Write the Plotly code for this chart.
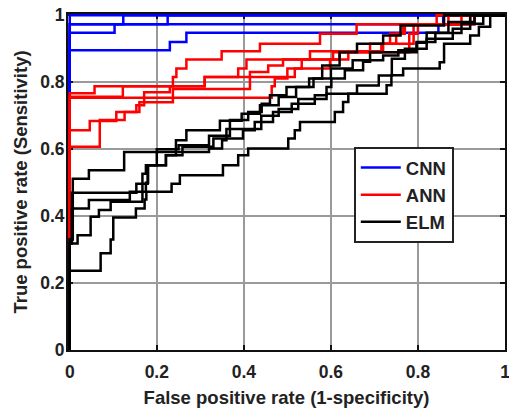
import plotly.graph_objects as go

# Tick labels
tick_vals = [0, 0.2, 0.4, 0.6, 0.8, 1]
tick_text = ["0", "0.2", "0.4", "0.6", "0.8", "1"]

# ROC step curves: each point is (fpr at step, tpr after step), drawn with 'hv' steps
cnn_fpr_1 = [0, 0, 1]
cnn_tpr_1 = [0, 1, 1]
cnn_fpr_2 = [0, 0, 0.123, 1]
cnn_tpr_2 = [0, 0.973, 1, 1]
cnn_fpr_3 = [0, 0, 0.103, 0.225, 1]
cnn_tpr_3 = [0, 0.948, 0.973, 1, 1]
cnn_fpr_4 = [0, 0, 0.93, 1]
cnn_tpr_4 = [0, 0.973, 1, 1]
cnn_fpr_5 = [0, 0, 0.23, 0.268, 0.847, 0.858, 1]
cnn_tpr_5 = [0, 0.896, 0.92, 0.948, 0.973, 1, 1]

ann_fpr_1 = [0, 0, 0.057, 0.237, 0.245, 0.268, 0.349, 0.437, 0.575, 0.659, 0.843, 1]
ann_tpr_1 = [0, 0.767, 0.788, 0.816, 0.841, 0.868, 0.893, 0.915, 0.945, 0.973, 1, 1]
ann_fpr_2 = [0, 0, 0.122, 0.31, 0.387, 0.406, 0.552, 0.69, 0.75, 0.77, 0.87, 1]
ann_tpr_2 = [0, 0.757, 0.788, 0.816, 0.841, 0.868, 0.893, 0.915, 0.945, 0.973, 1, 1]
ann_fpr_3 = [0, 0, 0.464, 0.471, 0.50, 0.533, 0.605, 0.716, 0.736, 0.766, 0.93, 1]
ann_tpr_3 = [0, 0.754, 0.788, 0.811, 0.841, 0.868, 0.89, 0.915, 0.945, 0.973, 1, 1]
ann_fpr_4 = [0, 0, 0.046, 0.107, 0.153, 0.171, 0.23, 0.31, 0.517, 0.598, 0.64, 0.72, 0.79, 0.9, 1]
ann_tpr_4 = [0, 0.657, 0.684, 0.711, 0.731, 0.77, 0.788, 0.816, 0.841, 0.868, 0.893, 0.915, 0.973, 1, 1]
ann_fpr_5 = [0, 0, 0.069, 0.126, 0.16, 0.237, 0.414, 0.456, 0.49, 0.62, 0.78, 0.8, 0.92, 1]
ann_tpr_5 = [0, 0.607, 0.687, 0.711, 0.74, 0.78, 0.831, 0.85, 0.868, 0.89, 0.945, 0.973, 1, 1]

elm_fpr_1 = [0, 0, 0.071, 0.094, 0.1, 0.152, 0.172, 0.176, 0.234, 0.253, 0.352, 0.387, 0.41,
             0.502, 0.517, 0.529, 0.609, 0.628, 0.64, 0.728, 0.739, 0.766, 0.85, 0.86, 0.92,
             0.94, 0.966, 1]
elm_tpr_1 = [0, 0.237, 0.289, 0.33, 0.396, 0.423, 0.45, 0.473, 0.497, 0.522, 0.552, 0.582, 0.602,
             0.632, 0.657, 0.681, 0.711, 0.741, 0.766, 0.791, 0.821, 0.841, 0.86, 0.915, 0.94,
             0.966, 1, 1]
elm_fpr_2 = [0, 0, 0.018, 0.048, 0.067, 0.094, 0.167, 0.175, 0.221, 0.259, 0.33, 0.398, 0.425,
             0.467, 0.51, 0.563, 0.59, 0.601, 0.632, 0.674, 0.69, 0.797, 0.84, 0.9, 0.95, 1]
elm_tpr_2 = [0, 0.318, 0.343, 0.398, 0.418, 0.443, 0.527, 0.552, 0.582, 0.607, 0.632, 0.657, 0.681,
             0.711, 0.736, 0.761, 0.786, 0.811, 0.836, 0.861, 0.89, 0.92, 0.947, 0.975, 1, 1]
elm_fpr_3 = [0, 0, 0.005, 0.044, 0.138, 0.175, 0.18, 0.2, 0.25, 0.32, 0.368, 0.41, 0.441, 0.46,
             0.498, 0.55, 0.6, 0.65, 0.72, 0.755, 0.797, 0.82, 0.87, 0.93, 1]
elm_tpr_3 = [0, 0.33, 0.423, 0.448, 0.473, 0.5, 0.552, 0.6, 0.612, 0.64, 0.687, 0.711, 0.736, 0.761,
             0.786, 0.811, 0.841, 0.866, 0.88, 0.896, 0.918, 0.948, 0.98, 1, 1]
elm_fpr_4 = [0, 0, 0.005, 0.153, 0.179, 0.221, 0.244, 0.268, 0.345, 0.395, 0.437, 0.48, 0.52,
             0.56, 0.58, 0.62, 0.66, 0.72, 0.76, 0.86, 1]
elm_tpr_4 = [0, 0.318, 0.47, 0.497, 0.552, 0.582, 0.627, 0.657, 0.685, 0.706, 0.731, 0.756, 0.786,
             0.811, 0.85, 0.89, 0.915, 0.94, 0.97, 1, 1]
elm_fpr_5 = [0, 0, 0.007, 0.044, 0.125, 0.32, 0.35, 0.36, 0.44, 0.48, 0.525, 0.59, 0.66, 0.71,
             0.74, 0.77, 0.82, 0.88, 0.92, 1]
elm_tpr_5 = [0, 0.33, 0.512, 0.537, 0.592, 0.602, 0.627, 0.66, 0.7, 0.72, 0.75, 0.766, 0.79, 0.82,
             0.87, 0.9, 0.93, 0.96, 1, 1]

series = [
    ("CNN", "#0000ff", [(cnn_fpr_1, cnn_tpr_1), (cnn_fpr_2, cnn_tpr_2), (cnn_fpr_3, cnn_tpr_3),
                        (cnn_fpr_4, cnn_tpr_4), (cnn_fpr_5, cnn_tpr_5)]),
    ("ANN", "#ff0000", [(ann_fpr_1, ann_tpr_1), (ann_fpr_2, ann_tpr_2), (ann_fpr_3, ann_tpr_3),
                        (ann_fpr_4, ann_tpr_4), (ann_fpr_5, ann_tpr_5)]),
    ("ELM", "#000000", [(elm_fpr_1, elm_tpr_1), (elm_fpr_2, elm_tpr_2), (elm_fpr_3, elm_tpr_3),
                        (elm_fpr_4, elm_tpr_4), (elm_fpr_5, elm_tpr_5)]),
]

fig = go.Figure()
for name, color, curves in series:
    for i, (fx, ty) in enumerate(curves):
        fig.add_trace(go.Scatter(
            x=fx, y=ty, mode="lines", name=name,
            showlegend=(i == 0),
            line=dict(color=color, width=2.5, shape="hv"),
        ))

font_main = dict(family="Liberation Sans, Arial, sans-serif", color="#222222", weight="bold")

axis_common = dict(
    tickvals=tick_vals, ticktext=tick_text,
    showgrid=True, gridcolor="#9a9a9a", gridwidth=1.5,
    showline=True, linecolor="#111111", linewidth=2, mirror="ticks",
    ticks="inside", ticklen=5, tickwidth=1.5, tickcolor="#111111",
    zeroline=False, layer="below traces", automargin=False,
    ticklabeloverflow="allow",
    tickfont=dict(size=17.5, **font_main),
)

fig.update_layout(
    width=509, height=409,
    margin=dict(l=68, r=4, t=14, b=59),
    paper_bgcolor="white", plot_bgcolor="white",
    xaxis=dict(range=[-0.004, 1.0], title=dict(text="False positive rate (1-specificity)",
               font=dict(size=18.5, **font_main), standoff=10), ticklabelstandoff=5, **axis_common),
    yaxis=dict(range=[0, 1.004], title=dict(text="True positive rate (Sensitivity)",
               font=dict(size=18.5, **font_main), standoff=8), ticklabelstandoff=-2, **axis_common),
    legend=dict(
        x=0.654, y=0.604, xanchor="left", yanchor="top",
        bgcolor="white", bordercolor="#222222", borderwidth=2,
        font=dict(size=18.5, **font_main),
        traceorder="normal", itemwidth=40,
    ),
    showlegend=True,
)

# remove the default page margin so the 509x409 figure fills the window
fig.write_html("out.html", config={"displayModeBar": False},
               post_script="document.body.style.margin='0';")
